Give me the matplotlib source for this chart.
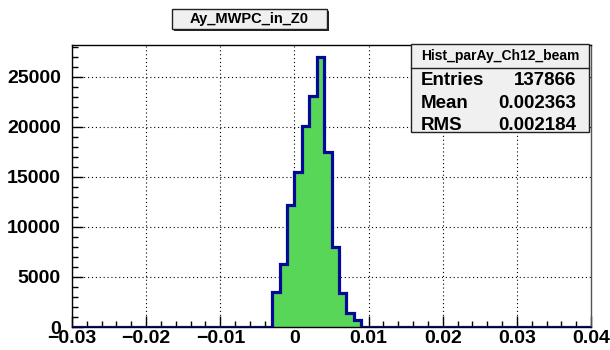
import matplotlib
matplotlib.use("Agg")
import matplotlib.pyplot as plt
from matplotlib.patches import Rectangle
from matplotlib.ticker import MultipleLocator
import numpy as np

plt.rcParams['font.family'] = ['Liberation Sans', 'DejaVu Sans']
plt.rcParams['axes.unicode_minus'] = True

# histogram: 70 bins of 0.001 from -0.03 to 0.04
x_lo, x_hi, n_bins = -0.03, 0.04, 70
first_bin = 27  # bin starting at -0.003
peak_counts = [3470, 6270, 12130, 15430, 20100, 23100, 26970, 17430, 7970, 3370, 1370, 700]
title = "Ay_MWPC_in_Z0"
stat_name = "Hist_parAy_Ch12_beam"
stat_labels = ["Entries", "Mean", "RMS"]
stat_values = ["137866", "0.002363", "0.002184"]
x_ticks = [-0.03, -0.02, -0.01, 0, 0.01, 0.02, 0.03, 0.04]
x_ticklabels = ["\u22120.03", "\u22120.02", "\u22120.01", "0", "0.01", "0.02", "0.03", "0.04"]
y_ticks = [0, 5000, 10000, 15000, 20000, 25000]

edges = np.linspace(x_lo, x_hi, n_bins + 1)
counts = np.zeros(n_bins)
counts[first_bin:first_bin + len(peak_counts)] = peak_counts

W, H = 610, 350
fig = plt.figure(figsize=(W / 100, H / 100), dpi=100)
fig.patch.set_facecolor('white')

def px(x0, y0, x1, y1):
    # pixel box (top-left origin) -> figure fraction rect
    return [x0 / W, 1 - y1 / H, (x1 - x0) / W, (y1 - y0) / H]

ax = fig.add_axes(px(72, 44.5, 591, 327))
ax.stairs(counts, edges, fill=True, color='#58d658', zorder=2)
ax.stairs(counts, edges, color='#000a96', lw=2.3, baseline=None, zorder=3)
ax.set_xlim(x_lo, x_hi)
ax.set_ylim(0, 28200)

ax.set_xticks(x_ticks)
ax.set_xticklabels(x_ticklabels)
ax.set_yticks(y_ticks)
ax.xaxis.set_minor_locator(MultipleLocator(0.002))
ax.yaxis.set_minor_locator(MultipleLocator(1000))
ax.tick_params(which='both', direction='in', top=False, right=False, width=1, colors='black')
ax.tick_params(which='major', length=8, labelsize=14)
ax.tick_params(which='minor', length=4)
ax.tick_params(axis='x', which='major', pad=2)
ax.tick_params(axis='y', which='major', pad=8)
for lab in ax.get_xticklabels() + ax.get_yticklabels():
    lab.set_fontweight('bold')
ax.grid(True, which='major', color='black', linestyle=(0, (1, 2.5)), lw=0.8, zorder=1)
ax.set_axisbelow(True)
for s in ax.spines.values():
    s.set_linewidth(1)
ax.spines['right'].set_color('#555555')

# title box with shadow
r = px(174, 11, 329, 31)
fig.patches.append(Rectangle((r[0], r[1]), r[2], r[3], transform=fig.transFigure,
                             facecolor='#222222', edgecolor='none', zorder=5))
r = px(172, 9, 327, 29)
fig.patches.append(Rectangle((r[0], r[1]), r[2], r[3], transform=fig.transFigure,
                             facecolor='#f0f0f0', edgecolor='#222222', lw=1, zorder=6))
fig.text((172 + 327) / 2 / W, 1 - 19.5 / H, title, ha='center', va='center',
         fontsize=10.5, fontweight='bold', zorder=7)

# stats box
r = px(411, 44, 589, 132)
fig.patches.append(Rectangle((r[0], r[1]), r[2], r[3], transform=fig.transFigure,
                             facecolor='#f0f0f0', edgecolor='#222222', lw=1, zorder=6))
fig.add_artist(plt.Line2D([411 / W, 589 / W], [1 - 68 / H, 1 - 68 / H],
                          transform=fig.transFigure, color='#222222', lw=1, zorder=7))
fig.text(500 / W, 1 - 56 / H, stat_name, ha='center', va='center',
         fontsize=10, fontweight='bold', zorder=8)
for i, (lab, val) in enumerate(zip(stat_labels, stat_values)):
    yy = 1 - (80.5 + i * 22.5) / H
    fig.text(421 / W, yy, lab, ha='left', va='center', fontsize=13.5, fontweight='bold', zorder=8)
    fig.text(576 / W, yy, val, ha='right', va='center', fontsize=13.5, fontweight='bold', zorder=8)

fig.savefig('out.png', dpi=100)
